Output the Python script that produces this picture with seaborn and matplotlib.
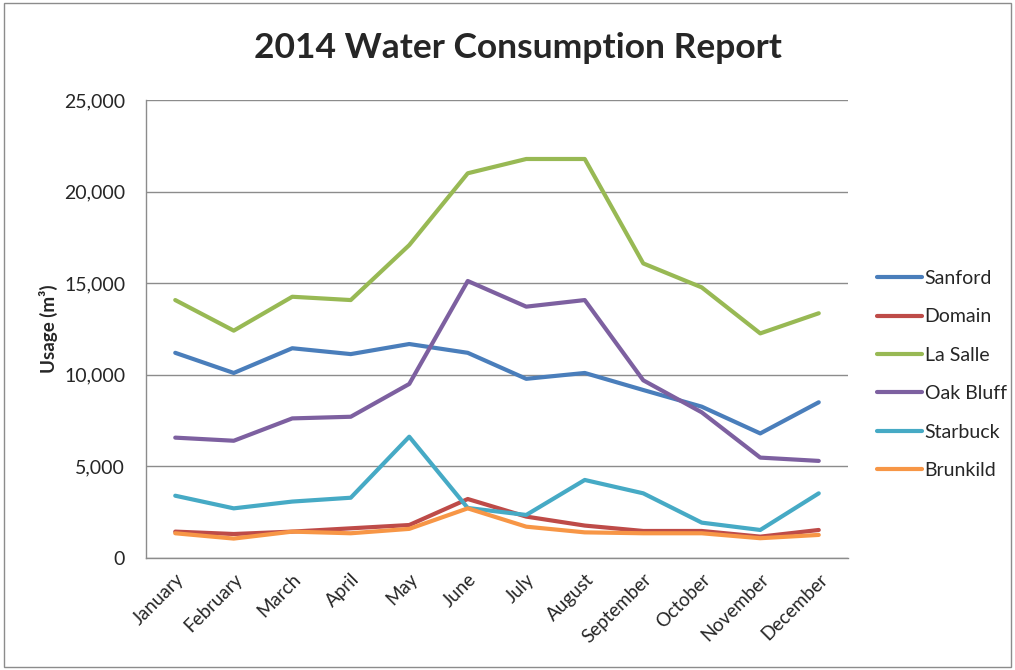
import matplotlib
matplotlib.use("Agg")
import matplotlib.pyplot as plt
import matplotlib.patches as mpatches
from matplotlib.ticker import FuncFormatter, FixedLocator
import pandas as pd
import seaborn as sns

# ---------------------------------------------------------------
# data (m3 per month)
# ---------------------------------------------------------------
months = ["January", "February", "March", "April", "May", "June", "July",
          "August", "September", "October", "November", "December"]

sanford = [11200, 10100, 11450, 11130, 11680, 11200, 9780, 10100, 9170, 8260, 6800, 8500]
domain = [1440, 1310, 1440, 1620, 1800, 3220, 2260, 1770, 1475, 1475, 1165, 1530]
la_salle = [14080, 12410, 14260, 14080, 17080, 21000, 21780, 21780, 16080, 14770, 12260, 13360]
oak_bluff = [6570, 6400, 7620, 7710, 9500, 15120, 13720, 14080, 9700, 7950, 5480, 5300]
starbuck = [3400, 2710, 3080, 3290, 6620, 2730, 2350, 4260, 3530, 1930, 1530, 3530]
brunkild = [1350, 1060, 1440, 1350, 1590, 2710, 1710, 1400, 1350, 1350, 1080, 1260]

stations = ["Sanford", "Domain", "La Salle", "Oak Bluff", "Starbuck", "Brunkild"]
colors = ["#4A7EBB", "#BE4B48", "#98B954", "#7D60A0", "#46AAC5", "#F79646"]

series = [sanford, domain, la_salle, oak_bluff, starbuck, brunkild]
rows = []
for name, vals in zip(stations, series):
    for i, v in enumerate(vals):
        rows.append({"month_idx": i, "Station": name, "Usage": v})
df = pd.DataFrame(rows)

# ---------------------------------------------------------------
# plot
# ---------------------------------------------------------------
sns.set_style("white")
plt.rcParams["font.family"] = ["Lato", "DejaVu Sans"]

fig = plt.figure(figsize=(10.15, 6.7), dpi=100)
ax = fig.add_axes([146 / 1015, 1 - 558 / 670, (848 - 146) / 1015, (558 - 100) / 670])

sns.lineplot(data=df, x="month_idx", y="Usage", hue="Station",
             hue_order=stations, palette=dict(zip(stations, colors)),
             linewidth=3.0, ax=ax, legend=True)
for ln in ax.get_lines():
    ln.set_solid_joinstyle("round")
    ln.set_solid_capstyle("round")

ax.set_xlim(-0.5, 11.5)
ax.set_ylim(0, 25000)
ax.set_yticks(range(0, 25001, 5000))
ax.yaxis.set_major_formatter(FuncFormatter(lambda v, p: f"{int(v):,}"))
ax.yaxis.grid(True, color="#8C8C8C", linewidth=1)
ax.set_axisbelow(True)

ax.set_xticks(range(12))
ax.set_xticklabels(months, rotation=45, ha="right", rotation_mode="anchor", fontsize=13.5)
ax.xaxis.set_minor_locator(FixedLocator([i - 0.5 for i in range(13)]))
ax.tick_params(axis="x", which="major", length=0, pad=9)
ax.tick_params(axis="x", which="minor", length=6, color="#8C8C8C", width=1, direction="out")
ax.tick_params(axis="y", length=6, color="#8C8C8C", width=1, direction="out",
               labelsize=14, pad=9)

for side in ["top", "right"]:
    ax.spines[side].set_visible(False)
for side in ["left", "bottom"]:
    ax.spines[side].set_color("#8C8C8C")
    ax.spines[side].set_linewidth(1)

ax.set_xlabel("")
ax.set_ylabel("Usage (m³)", fontsize=13.5, fontweight="bold")
ax.yaxis.set_label_coords(-0.125, 0.5)

fig.text(518 / 1015, 1 - 48 / 670, "2014 Water Consumption Report",
         ha="center", va="center", fontsize=25.5, fontweight="bold")

handles, labels = ax.get_legend_handles_labels()
ax.legend_.remove()
fig.legend(handles, labels, loc="upper left",
           bbox_to_anchor=(877 / 1015, 1 - 270 / 670),
           frameon=False, fontsize=14, handlelength=2.3,
           handletextpad=0.15, labelspacing=1.1, borderpad=0, borderaxespad=0)

# outer chart border
fig.patches.append(mpatches.Rectangle((4 / 1015, 3 / 670), 1 - 8 / 1015, 1 - 6 / 670,
                                      transform=fig.transFigure, fill=False,
                                      edgecolor="#8C8C8C", linewidth=1))

fig.savefig("out.png", dpi=100)
